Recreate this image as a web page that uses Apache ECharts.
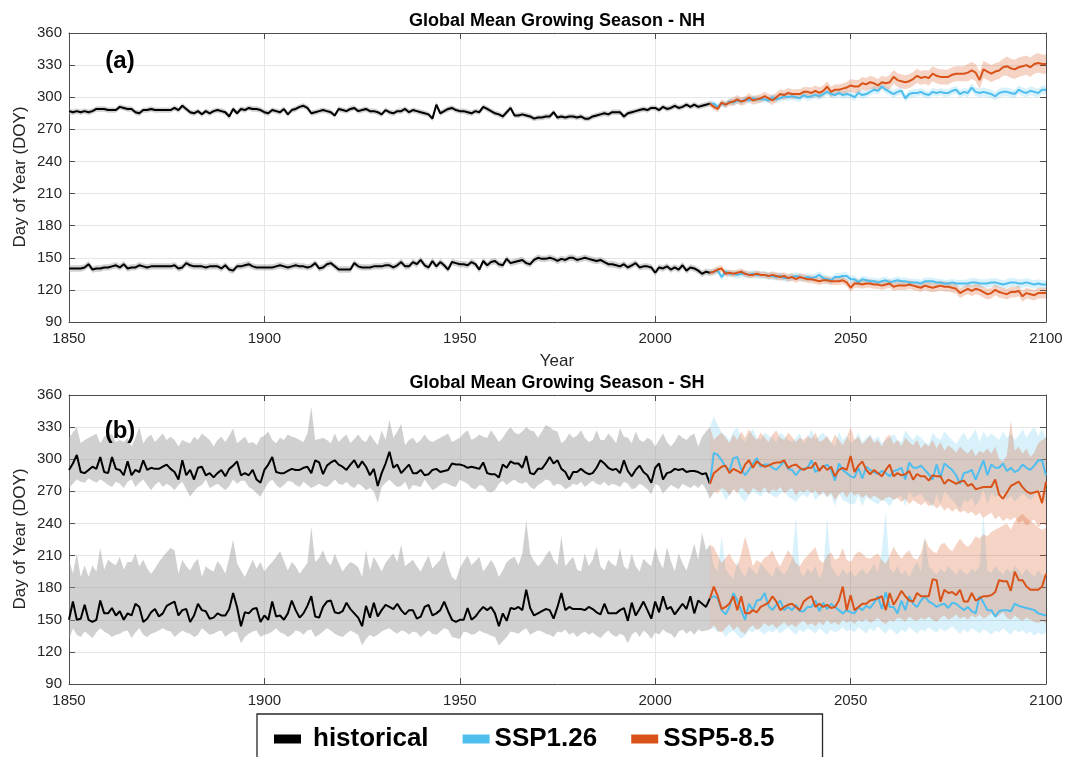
<!DOCTYPE html>
<html>
<head>
<meta charset="utf-8">
<title>Global Mean Growing Season</title>
<script src="https://cdn.jsdelivr.net/npm/echarts@6/dist/echarts.min.js"></script>
<style>
  html, body { margin: 0; padding: 0; background: #fff; }
  #main { width: 1067px; height: 757px; }
</style>
</head>
<body>
<div id="main"></div>
<script>
// years
var histStart = 1850, histEnd = 2014, futStart = 2015, futEnd = 2100;

// ---------- (a) NH : end of season (upper) ----------
var nhEndHist = [
  287,286,287,286,287,286,287,289,289,289,
  288,288,288,291,290,289,289,286,285,288,
  288,289,288,288,288,288,288,290,288,292,
  289,286,285,287,284,287,285,287,288,287,
  286,282,289,285,289,288,290,289,289,288,
  286,285,288,287,286,289,284,288,289,291,
  292,290,285,286,287,288,287,286,283,289,
  288,287,289,290,287,288,289,287,287,286,
  284,288,286,285,287,287,289,286,288,287,
  286,285,284,280,293,285,287,289,290,288,
  287,287,286,285,287,286,291,289,287,285,
  284,282,286,290,283,283,284,283,282,280,
  281,281,282,282,286,281,282,281,282,282,
  281,282,280,280,282,283,284,285,284,286,
  286,286,282,285,286,287,288,289,288,290,
  290,288,291,289,290,292,290,291,293,291,
  293,291,292,293,294
];
var nhEndSsp126 = [
  294,291,294,293,296,
  295,297,296,298,297,299,298,298,298,297,
  300,298,299,301,300,301,300,299,302,300,
  301,302,301,303,305,303,302,304,302,303,
  302,300,304,302,303,305,307,306,310,307,
  305,303,305,306,299,303,304,304,305,303,
  302,305,304,305,304,304,306,307,303,305,
  304,309,305,304,305,304,303,301,304,305,
  305,304,303,307,305,304,306,305,304,307,
  307
];
var nhEndSsp585 = [
  291,289,295,293,295,
  296,298,296,297,300,297,298,299,301,299,
  297,300,303,302,304,303,303,303,305,305,
  304,306,304,306,310,305,307,307,308,309,
  311,310,310,313,312,314,313,311,314,313,
  314,319,316,315,314,315,317,320,318,319,
  318,322,320,319,319,319,321,322,322,322,
  323,325,323,316,326,324,322,324,325,328,
  329,327,326,328,329,330,328,331,332,331,
  331
];
// ---------- (a) NH : start of season (lower) ----------
var nhStartHist = [
  140,140,140,140,141,144,139,140,140,141,
  141,142,143,141,144,140,141,141,143,142,
  141,142,142,142,142,142,142,143,140,141,
  145,143,142,142,142,141,142,142,142,140,
  143,139,138,142,142,143,144,142,141,141,
  141,141,141,142,143,142,141,142,143,142,
  142,141,142,145,140,141,144,145,142,139,
  139,139,139,145,142,141,141,141,142,142,
  142,143,143,141,143,146,142,142,146,144,
  148,143,141,147,142,146,143,139,146,145,
  144,144,143,146,144,139,147,143,146,147,
  144,143,149,145,146,147,148,145,144,148,
  150,149,149,150,149,147,149,148,150,150,
  148,149,150,149,148,147,148,146,144,144,
  143,142,144,141,143,145,141,142,142,141,
  136,141,140,142,139,141,139,143,138,141,
  140,138,135,137,136
];
var nhStartSsp126 = [
  137,138,132,137,135,
  135,134,135,135,134,135,134,134,134,133,
  133,132,133,131,131,132,133,132,131,132,
  131,132,134,131,130,129,132,132,133,133,
  130,130,127,130,129,128,128,127,128,129,
  127,128,129,128,128,127,127,127,126,128,
  128,128,127,127,126,126,127,126,126,126,
  126,127,127,126,126,126,127,127,126,125,
  126,127,127,126,126,127,126,125,126,125,
  125
];
var nhStartSsp585 = [
  137,139,140,135,136,
  135,136,137,135,134,134,135,134,134,133,
  134,133,132,133,131,132,130,132,131,130,
  130,129,128,129,129,128,128,128,129,127,
  122,126,126,125,126,126,125,125,124,125,
  126,123,124,124,124,125,124,123,122,124,
  123,122,123,124,123,123,122,121,117,119,
  121,119,121,120,118,116,117,120,118,117,
  116,118,118,119,114,117,116,115,117,117,
  117
];
// (a) half-width of the shaded range, one value per decade
var nhEndHistSpread   = [2.5,2.5,2.5,2.5,2.5,2.5,2.5,2.5,2.5,2.5,2.5,2.5,2.5,2.5,2.5,2.5,2.5];
var nhStartHistSpread = [3,3,3,3,3,3,3,3,3,3,3,3,3,3,3,3,3];
var nhEndSsp126Spread   = [3,3,3.5,3.5,3.5,3.5,3.5,4,4,4];
var nhEndSsp585Spread   = [3,4,4.5,5,6,6.5,7,8,9,9];
var nhStartSsp126Spread = [3,3.5,3.5,3.5,3.5,3.5,3.5,4,4,4];
var nhStartSsp585Spread = [3,3,3.5,3.5,4,4,4.5,5,5,5];

// ---------- (b) SH : upper curve ----------
var shEndHist = [
  290,296,304,288,287,290,293,291,302,288,
  287,302,291,290,285,298,285,290,288,299,
  290,292,291,291,293,295,291,288,281,299,
  285,290,281,292,293,285,287,283,287,290,
  284,291,294,298,285,287,285,290,281,278,
  290,295,302,288,287,287,289,291,290,290,
  292,293,287,299,297,286,294,297,299,295,
  293,290,295,299,292,298,293,285,291,275,
  287,296,307,292,295,287,291,295,287,287,
  290,285,286,290,291,288,289,290,296,295,
  295,294,292,293,292,291,297,287,286,286,
  283,295,292,298,296,296,292,303,287,286,
  291,291,296,302,296,299,291,288,281,288,
  288,291,288,286,287,292,299,296,292,290,
  291,287,299,289,284,290,294,288,285,278,
  292,296,281,287,288,291,290,291,288,289,
  289,288,286,287,277
];
var shEndHistHi = [
  320,325,330,315,318,320,322,324,315,321,
  323,323,316,318,316,320,312,320,330,315,
  320,323,316,320,324,318,321,318,312,318,
  316,315,321,318,324,321,318,312,318,321,
  316,322,329,315,318,321,315,316,313,320,
  322,326,318,315,320,318,323,321,320,318,
  316,324,349,318,319,320,318,315,324,316,
  320,323,315,319,323,318,316,323,318,313,
  327,318,337,320,326,333,313,318,320,315,
  318,323,318,316,318,320,322,324,316,318,
  320,324,327,318,320,323,321,320,327,322,
  316,320,326,330,325,323,326,330,327,326,
  320,326,332,330,327,326,315,318,324,320,
  322,327,320,316,318,327,318,318,324,320,
  315,329,321,320,315,326,318,316,320,318,
  312,318,324,316,312,316,323,320,318,322,
  324,312,321,326,330
];
var shEndHistLo = [
  273,277,281,279,278,282,280,278,281,279,
  276,274,279,277,273,279,281,274,278,281,
  276,271,276,279,274,277,275,271,276,279,
  272,265,270,274,276,281,273,275,277,274,
  271,275,281,277,280,280,274,272,268,265,
  272,278,281,276,273,276,280,279,276,274,
  279,276,273,275,277,275,274,277,281,277,
  276,279,275,273,277,275,271,273,270,259,
  274,278,281,277,274,275,279,271,276,275,
  274,281,276,271,273,276,278,277,275,274,
  281,279,277,273,272,276,275,270,269,271,
  277,280,276,279,281,278,277,279,274,272,
  276,278,281,280,275,277,276,272,274,277,
  276,279,274,277,280,277,276,279,275,277,
  276,274,279,277,272,273,277,275,272,267,
  277,275,268,272,276,274,272,277,275,273,
  276,273,277,272,263
];
var shEndSsp126 = [
  306,304,299,293,289,
  301,302,291,285,290,296,301,293,295,295,
  292,290,294,298,291,290,285,290,291,292,
  299,288,291,293,295,290,280,296,290,287,
  284,283,292,282,293,290,288,286,289,287,
  284,289,290,292,281,297,292,292,294,290,
  286,281,295,283,296,293,290,285,277,287,
  288,290,281,290,299,285,295,292,292,296,
  289,292,288,290,295,292,290,294,299,299,
  285
];
var shEndSsp126Hi = [
  340,332,325,322,318,
  326,330,320,316,324,328,320,318,325,322,
  320,316,325,322,318,316,320,324,315,320,
  328,318,322,325,320,316,312,326,318,322,
  315,318,325,316,320,323,318,322,315,318,
  320,324,318,316,327,322,318,323,320,316,
  314,325,320,318,326,322,318,314,320,325,
  318,322,328,316,326,320,324,321,318,326,
  320,324,318,322,328,320,326,330,322,328,
  320
];
var shEndSsp126Lo = [
  268,272,270,262,266,
  272,270,264,260,266,270,268,265,270,268,
  266,264,268,270,265,263,260,265,267,264,
  270,262,266,268,264,267,256,268,262,260,
  258,258,266,256,265,262,260,258,262,260,
  256,262,264,266,256,270,264,266,268,262,
  260,255,268,258,270,266,262,258,252,262,
  260,264,256,262,272,258,268,265,266,268,
  262,266,260,264,268,265,262,266,272,270,
  258
];
var shEndSsp585 = [
  287,290,293,294,287,
  291,289,287,295,299,292,298,295,293,294,
  296,297,297,299,292,294,295,292,290,292,
  292,297,289,294,290,293,284,290,292,290,
  303,288,294,298,290,286,290,287,284,290,
  295,284,287,285,286,289,281,286,284,284,
  280,285,284,284,277,281,279,277,279,280,
  275,277,272,273,274,274,274,281,267,263,
  269,275,277,279,274,270,268,269,270,259,
  279
];
var shEndSsp585Hi = [
  318,322,325,320,315,
  323,318,326,320,328,322,318,325,320,316,
  323,327,320,318,325,321,316,320,318,322,
  319,325,316,318,322,315,323,318,313,320,
  330,318,321,314,318,322,315,318,312,320,
  323,314,318,312,320,316,313,318,310,315,
  312,318,310,316,308,313,310,306,312,308,
  305,310,303,308,306,310,305,312,300,298,
  304,337,308,312,305,310,302,306,315,318,
  320
];
var shEndSsp585Lo = [
  270,268,273,271,266,
  272,268,274,270,267,273,271,269,274,268,
  272,270,274,268,271,273,266,271,269,272,
  268,271,266,270,265,269,262,267,270,264,
  270,266,268,264,267,263,266,264,261,264,
  265,262,264,260,263,258,262,259,257,260,
  256,258,254,257,252,255,251,254,250,252,
  249,251,247,250,245,248,250,244,247,242,
  245,243,246,240,243,238,241,244,236,240,
  238
];

// ---------- (b) SH : lower curve ----------
var shStartHist = [
  150,167,150,151,164,150,148,150,168,156,
  156,161,154,158,150,156,154,165,162,148,
  151,157,160,153,156,163,165,167,154,159,
  160,148,154,165,159,158,151,152,156,154,
  154,160,175,162,144,157,156,160,161,148,
  154,150,167,153,154,150,156,168,159,152,
  156,163,172,153,152,162,167,168,157,156,
  158,166,160,156,152,144,163,152,166,153,
  159,164,162,160,165,159,155,159,159,151,
  153,162,164,154,156,159,167,158,150,148,
  150,150,161,150,153,158,162,159,162,156,
  144,156,149,161,160,162,159,178,161,154,
  156,158,160,159,151,162,175,159,162,160,
  160,160,159,162,160,157,155,165,156,156,
  156,159,161,149,166,154,160,167,159,151,
  167,157,172,160,162,155,160,165,160,172,
  156,168,165,162,170
];
var shStartHistHi = [
  207,193,212,190,201,190,201,195,217,197,
  206,203,201,209,197,204,204,212,200,206,
  198,193,198,204,209,213,217,215,193,206,
  200,196,203,207,190,200,197,195,205,200,
  193,208,225,203,196,190,198,206,198,204,
  195,200,204,209,214,205,196,204,200,193,
  198,203,237,204,208,215,205,201,212,203,
  195,200,204,202,199,190,215,196,209,202,
  195,203,208,212,204,220,200,203,206,200,
  195,203,210,198,202,206,215,200,190,187,
  198,205,210,201,205,209,195,200,206,200,
  190,196,204,207,209,201,212,243,212,205,
  200,204,210,215,206,201,228,200,205,209,
  197,195,212,200,206,218,200,196,206,202,
  200,217,200,197,212,200,195,207,203,200,
  218,205,198,218,205,195,212,203,196,208,
  221,206,231,215,220
];
var shStartHistLo = [
  131,142,136,134,139,136,133,138,142,139,
  137,134,136,137,139,140,133,138,142,136,
  134,137,138,140,142,140,139,134,137,140,
  138,137,134,136,142,139,136,137,139,140,
  134,137,139,138,128,134,137,139,140,134,
  136,137,139,142,138,137,134,136,140,139,
  136,140,141,134,136,139,142,140,137,135,
  134,137,140,138,136,126,132,136,134,136,
  139,141,142,139,137,140,139,136,139,138,
  134,137,140,137,136,139,142,141,134,133,
  132,139,138,136,137,140,138,137,135,134,
  126,130,134,139,138,137,140,142,136,138,
  140,139,137,136,134,139,138,141,136,138,
  134,137,139,136,138,135,133,137,140,136,
  134,137,135,128,136,139,134,140,137,132,
  138,136,141,138,137,133,139,141,137,140,
  136,141,139,140,141
];
var shStartSsp126 = [
  172,170,159,155,162,
  175,168,159,150,165,159,168,169,175,163,
  159,164,168,159,162,159,164,158,158,162,
  162,168,158,166,160,165,162,159,156,159,
  157,156,162,159,163,161,166,172,160,176,
  162,162,156,168,159,172,165,162,168,172,
  167,165,162,164,165,161,166,165,162,159,
  162,158,156,172,166,159,159,153,158,159,
  159,158,165,163,162,161,160,159,156,155,
  154
];
var shStartSsp126Hi = [
  200,195,228,198,192,
  188,205,195,190,200,196,192,203,198,194,
  190,200,196,192,198,206,246,195,190,198,
  194,200,188,196,246,200,194,190,198,192,
  196,190,194,198,192,196,202,194,215,251,
  198,194,200,192,196,190,198,204,195,228,
  200,196,192,198,194,200,196,192,198,194,
  192,198,195,200,249,196,194,200,196,192,
  198,194,200,196,192,198,194,190,196,192,
  190
];
var shStartSsp126Lo = [
  142,138,140,134,138,
  140,136,132,135,140,138,142,139,136,140,
  138,141,137,140,143,139,136,141,138,142,
  140,137,142,139,136,141,138,140,143,139,
  141,138,143,140,137,142,139,144,140,137,
  142,139,136,141,138,143,140,137,141,139,
  143,140,138,142,139,141,144,140,137,141,
  138,142,140,137,141,139,136,140,138,142,
  139,136,141,138,140,137,139,135,138,136,
  138
];
var shStartSsp585 = [
  181,172,160,162,165,
  172,159,172,156,156,159,157,162,164,166,
  172,167,159,162,164,165,162,159,167,170,
  172,162,165,162,164,161,162,168,181,159,
  173,159,162,165,165,168,169,170,172,159,
  175,164,170,177,172,168,167,175,172,172,
  172,188,187,167,178,175,176,173,178,167,
  167,175,168,170,172,172,173,176,187,186,
  186,177,195,187,187,181,178,178,178,181,
  193
];
var shStartSsp585Hi = [
  218,210,203,208,212,
  205,200,212,228,215,200,206,203,208,210,
  215,206,200,208,215,210,203,200,206,210,
  214,218,206,203,210,213,206,208,217,206,
  204,210,214,212,208,207,210,212,206,202,
  210,218,212,207,212,215,208,206,212,226,
  218,214,212,220,222,217,214,220,226,221,
  218,222,228,226,230,228,232,234,236,238,
  240,234,242,246,249,245,242,240,236,234,
  236
];
var shStartSsp585Lo = [
  145,140,138,142,146,
  140,144,139,137,142,145,140,143,147,144,
  146,142,145,148,144,146,143,147,149,145,
  147,144,148,145,150,146,148,145,150,147,
  149,146,150,148,151,147,149,152,148,146,
  150,148,152,151,148,153,150,149,152,150,
  153,150,148,152,154,150,152,155,151,153,
  150,154,152,155,151,153,156,152,154,157,
  152,150,154,151,149,152,150,148,147,149,
  147
];

// ---------- helpers ----------
function yearRange(a, b) {
  var out = [];
  for (var y = a; y <= b; y++) out.push(y);
  return out;
}
var histYears = yearRange(histStart, histEnd);
var futYears = yearRange(futStart, futEnd);

var FONT = "'Liberation Sans', Arial, Helvetica, sans-serif";
var BLACK = '#000000', BLUE = '#4DBEEE', ORANGE = '#D95319';
var GRAY_BAND = 'rgba(150,150,150,0.45)';
var BLUE_BAND = 'rgba(77,190,238,0.22)';
var ORANGE_BAND = 'rgba(217,83,25,0.25)';

function last(arr) { return arr[arr.length - 1]; }

function lineSeries(name, years, vals, color, gi, lead) {
  var data = years.map(function (y, i) { return [y, vals[i]]; });
  if (lead) data.unshift(lead);
  return {
    name: name, type: 'line', xAxisIndex: gi, yAxisIndex: gi,
    data: data, symbol: 'none', silent: true,
    lineStyle: { color: color, width: 2 }, itemStyle: { color: color }
  };
}
// shaded range drawn as a polygon through the axis scales
// lead = [year, lo, hi] joins a projection band onto the end of the historical one
function bandSeries(years, lo, hi, color, gi, lead) {
  var ys = years.slice(), l = lo.slice(), h = hi.slice();
  if (lead) { ys.unshift(lead[0]); l.unshift(lead[1]); h.unshift(lead[2]); }
  return {
    type: 'custom', xAxisIndex: gi, yAxisIndex: gi, silent: true,
    data: [[ys[0], l[0]]],
    renderItem: function (params, api) {
      var pts = [];
      for (var i = 0; i < ys.length; i++) pts.push(api.coord([ys[i], h[i]]));
      for (var j = ys.length - 1; j >= 0; j--) pts.push(api.coord([ys[j], l[j]]));
      return { type: 'polygon', shape: { points: pts }, style: { fill: color } };
    }
  };
}
function spreadBand(years, vals, spread, decade0, color, gi, lead) {
  var lo = [], hi = [];
  for (var i = 0; i < years.length; i++) {
    var s = spread[Math.floor((years[i] - decade0) / 10)];
    lo.push(vals[i] - s); hi.push(vals[i] + s);
  }
  var ld = null;
  if (lead !== undefined) ld = [histEnd, lead - spread[0], lead + spread[0]];
  return bandSeries(years, lo, hi, color, gi, ld);
}

// ---------- axes ----------
var axisLineStyle = { color: '#4d4d4d', width: 1 };
function xAxisPair(gi) {
  return [{
    type: 'value', gridIndex: gi, min: 1850, max: 2100, interval: 50, position: 'bottom',
    axisLine: { show: true, onZero: false, lineStyle: axisLineStyle },
    axisTick: { show: true, inside: true, length: 6, lineStyle: axisLineStyle },
    splitLine: { show: true, lineStyle: { color: '#e6e6e6', width: 1 } },
    axisLabel: { color: '#262626', fontSize: 15, fontFamily: FONT, margin: 9,
      formatter: function (v) { return String(v); } }
  }, {
    type: 'value', gridIndex: gi, min: 1850, max: 2100, interval: 50, position: 'top',
    axisLine: { show: true, onZero: false, lineStyle: axisLineStyle },
    axisTick: { show: true, inside: true, length: 6, lineStyle: axisLineStyle },
    splitLine: { show: false }, axisLabel: { show: false }
  }];
}
function yAxisPair(gi) {
  return [{
    type: 'value', gridIndex: gi, min: 90, max: 360, interval: 30, position: 'left',
    axisLine: { show: true, onZero: false, lineStyle: axisLineStyle },
    axisTick: { show: true, inside: true, length: 6, lineStyle: axisLineStyle },
    splitLine: { show: true, lineStyle: { color: '#e6e6e6', width: 1 } },
    axisLabel: { color: '#262626', fontSize: 15, fontFamily: FONT, margin: 7 }
  }, {
    type: 'value', gridIndex: gi, min: 90, max: 360, interval: 30, position: 'right',
    axisLine: { show: true, onZero: false, lineStyle: axisLineStyle },
    axisTick: { show: true, inside: true, length: 6, lineStyle: axisLineStyle },
    splitLine: { show: false }, axisLabel: { show: false }
  }];
}
var xa = xAxisPair(0).concat(xAxisPair(1));
var ya = yAxisPair(0).concat(yAxisPair(1));

var series = [];
// ---- panel (a): grid 0 -> xAxis 0 / yAxis 0
var A = 0;
series.push(spreadBand(histYears, nhEndHist, nhEndHistSpread, 1850, GRAY_BAND, A));
series.push(spreadBand(histYears, nhStartHist, nhStartHistSpread, 1850, GRAY_BAND, A));
series.push(lineSeries('historical', histYears, nhEndHist, BLACK, A));
series.push(lineSeries('historical', histYears, nhStartHist, BLACK, A));
series.push(spreadBand(futYears, nhEndSsp126, nhEndSsp126Spread, 2010, BLUE_BAND, A, last(nhEndHist)));
series.push(spreadBand(futYears, nhStartSsp126, nhStartSsp126Spread, 2010, BLUE_BAND, A, last(nhStartHist)));
series.push(lineSeries('SSP1.26', futYears, nhEndSsp126, BLUE, A, [histEnd, last(nhEndHist)]));
series.push(lineSeries('SSP1.26', futYears, nhStartSsp126, BLUE, A, [histEnd, last(nhStartHist)]));
series.push(spreadBand(futYears, nhEndSsp585, nhEndSsp585Spread, 2010, ORANGE_BAND, A, last(nhEndHist)));
series.push(spreadBand(futYears, nhStartSsp585, nhStartSsp585Spread, 2010, ORANGE_BAND, A, last(nhStartHist)));
series.push(lineSeries('SSP5-8.5', futYears, nhEndSsp585, ORANGE, A, [histEnd, last(nhEndHist)]));
series.push(lineSeries('SSP5-8.5', futYears, nhStartSsp585, ORANGE, A, [histEnd, last(nhStartHist)]));
// ---- panel (b): grid 1 -> xAxis 2 / yAxis 2
var B = 2;
var endLead = [histEnd, last(shEndHistLo), last(shEndHistHi)];
var startLead = [histEnd, last(shStartHistLo), last(shStartHistHi)];
series.push(bandSeries(histYears, shEndHistLo, shEndHistHi, GRAY_BAND, B));
series.push(bandSeries(histYears, shStartHistLo, shStartHistHi, GRAY_BAND, B));
series.push(lineSeries('historical', histYears, shEndHist, BLACK, B));
series.push(lineSeries('historical', histYears, shStartHist, BLACK, B));
series.push(bandSeries(futYears, shEndSsp126Lo, shEndSsp126Hi, BLUE_BAND, B, endLead));
series.push(bandSeries(futYears, shStartSsp126Lo, shStartSsp126Hi, BLUE_BAND, B, startLead));
series.push(lineSeries('SSP1.26', futYears, shEndSsp126, BLUE, B, [histEnd, last(shEndHist)]));
series.push(lineSeries('SSP1.26', futYears, shStartSsp126, BLUE, B, [histEnd, last(shStartHist)]));
series.push(bandSeries(futYears, shEndSsp585Lo, shEndSsp585Hi, ORANGE_BAND, B, endLead));
series.push(bandSeries(futYears, shStartSsp585Lo, shStartSsp585Hi, ORANGE_BAND, B, startLead));
series.push(lineSeries('SSP5-8.5', futYears, shEndSsp585, ORANGE, B, [histEnd, last(shEndHist)]));
series.push(lineSeries('SSP5-8.5', futYears, shStartSsp585, ORANGE, B, [histEnd, last(shStartHist)]));

var chart = echarts.init(document.getElementById('main'), null, { renderer: 'canvas' });
var option = {
  animation: false,
  backgroundColor: '#ffffff',
  grid: [
    { left: 69, top: 33, width: 977, height: 289 },
    { left: 69, top: 395, width: 977, height: 289 }
  ],
  xAxis: xa,
  yAxis: ya,
  legend: {
    left: 257, top: 714, orient: 'horizontal',
    data: [
      { name: 'historical', itemStyle: { color: BLACK }, textStyle: { padding: [0, 0, 0, 7] } },
      { name: 'SSP1.26', itemStyle: { color: BLUE } },
      { name: 'SSP5-8.5', itemStyle: { color: ORANGE } }
    ],
    icon: 'rect', itemWidth: 27, itemHeight: 9, itemGap: 34,
    padding: [12, 48, 14, 17],
    borderColor: '#262626', borderWidth: 1.3, backgroundColor: '#ffffff',
    selectedMode: false,
    textStyle: { fontSize: 26, fontWeight: 'bold', fontFamily: FONT, color: '#000' }
  },
  graphic: [
    { type: 'text', x: 557, y: 21, style: { text: 'Global Mean Growing Season - NH', fill: '#000',
      font: 'bold 18px ' + FONT, textAlign: 'center', textVerticalAlign: 'middle' } },
    { type: 'text', x: 557, y: 383, style: { text: 'Global Mean Growing Season - SH', fill: '#000',
      font: 'bold 18px ' + FONT, textAlign: 'center', textVerticalAlign: 'middle' } },
    { type: 'text', x: 120, y: 61, z: 100, style: { text: '(a)', fill: '#000',
      font: 'bold 24px ' + FONT, textAlign: 'center', textVerticalAlign: 'middle' } },
    { type: 'text', x: 120, y: 431, z: 100, style: { text: '(b)', fill: '#000',
      font: 'bold 24px ' + FONT, textAlign: 'center', textVerticalAlign: 'middle' } },
    { type: 'text', x: 20, y: 177, rotation: Math.PI / 2, style: { text: 'Day of Year (DOY)', fill: '#262626',
      font: '17px ' + FONT, textAlign: 'center', textVerticalAlign: 'middle' } },
    { type: 'text', x: 20, y: 539, rotation: Math.PI / 2, style: { text: 'Day of Year (DOY)', fill: '#262626',
      font: '17px ' + FONT, textAlign: 'center', textVerticalAlign: 'middle' } },
    { type: 'text', x: 557, y: 361, style: { text: 'Year', fill: '#262626',
      font: '17px ' + FONT, textAlign: 'center', textVerticalAlign: 'middle' } }
  ],
  series: series
};
chart.setOption(option);
</script>
</body>
</html>
